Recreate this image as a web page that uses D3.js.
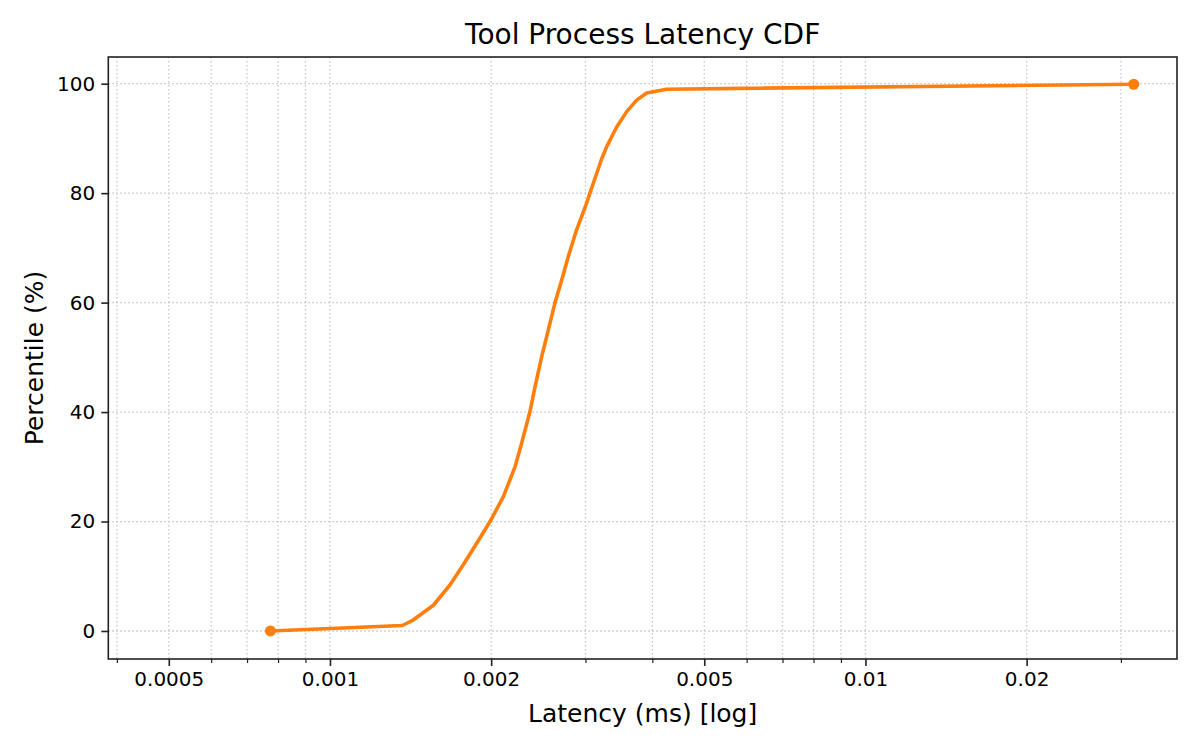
<!DOCTYPE html>
<html>
<head>
<meta charset="utf-8">
<script src="https://cdn.jsdelivr.net/npm/d3@7"></script>
<style>
  body { margin: 0; background: #fff; }
  text { font-family: "DejaVu Sans", sans-serif; fill: #000; }
</style>
</head>
<body>
<svg id="main" width="1200" height="750"></svg>
<script>
latencyMs = [0.000774, 0.001365, 0.00143, 0.00156, 0.001675, 0.001774, 0.001906, 0.00199,
  0.002107, 0.002216, 0.00228, 0.002363, 0.002415, 0.002485, 0.002557, 0.002632,
  0.002708, 0.002786, 0.002888, 0.003006, 0.003058, 0.003148, 0.003215, 0.003287,
  0.003431, 0.003582, 0.003739, 0.003903, 0.004254, 0.0317];
percentile = [0, 1, 2, 4.7, 8.4, 12.1, 17, 20,
  24.5, 30, 34.3, 40.1, 44.6, 50.1, 55, 60,
  64.1, 68.4, 73.3, 77.8, 80, 83.6, 86.2, 88.5,
  92.1, 94.9, 97, 98.3, 99, 99.9];

xMajor = [0.0005, 0.001, 0.002, 0.005, 0.01, 0.02];
xMajorLabels = ["0.0005", "0.001", "0.002", "0.005", "0.01", "0.02"];
xMinor = [0.0004, 0.0006, 0.0007, 0.0008, 0.0009, 0.003, 0.004,
  0.006, 0.007, 0.008, 0.009, 0.03];
yTicks = [0, 20, 40, 60, 80, 100];

var svg = d3.select("#main");
var mLeft = 108.3, mRight = 1177, mTop = 57, mBottom = 659;
var orange = "#ff7f0e";

var x = d3.scaleLog().domain([0.0003855, 0.03818]).range([mLeft, mRight]);
var y = d3.scaleLinear().domain([-5.12, 104.88]).range([mBottom, mTop]);

// grid lines (dotted, major + minor on x)
var grid = svg.append("g")
  .attr("stroke", "#c6c6c6").attr("stroke-width", 1.3)
  .attr("stroke-dasharray", "1.6,2.4");
xMajor.concat(xMinor).forEach(function(v) {
  grid.append("line")
    .attr("x1", x(v)).attr("x2", x(v))
    .attr("y1", mTop).attr("y2", mBottom);
});
yTicks.forEach(function(v) {
  grid.append("line")
    .attr("x1", mLeft).attr("x2", mRight)
    .attr("y1", y(v)).attr("y2", y(v));
});

// axes
var xAxis = d3.axisBottom(x).tickValues(xMajor)
  .tickFormat(function(d, i) { return xMajorLabels[i]; })
  .tickSize(7).tickPadding(6);
var gx = svg.append("g").attr("transform", "translate(0," + mBottom + ")").call(xAxis);
gx.select(".domain").remove();
gx.selectAll("line").attr("stroke", "#222").attr("stroke-width", 1.6);
gx.selectAll("text").style("font-size", "20px").style("font-family", "DejaVu Sans");

var xAxisMinor = d3.axisBottom(x).tickValues(xMinor).tickFormat("").tickSize(4);
var gxm = svg.append("g").attr("transform", "translate(0," + mBottom + ")").call(xAxisMinor);
gxm.select(".domain").remove();
gxm.selectAll("line").attr("stroke", "#222").attr("stroke-width", 1.2);

var yAxis = d3.axisLeft(y).tickValues(yTicks).tickSize(7).tickPadding(6);
var gy = svg.append("g").attr("transform", "translate(" + mLeft + ",0)").call(yAxis);
gy.select(".domain").remove();
gy.selectAll("line").attr("stroke", "#222").attr("stroke-width", 1.6);
gy.selectAll("text").style("font-size", "20px").style("font-family", "DejaVu Sans");

// frame
svg.append("rect")
  .attr("x", mLeft).attr("y", mTop)
  .attr("width", mRight - mLeft).attr("height", mBottom - mTop)
  .attr("fill", "none").attr("stroke", "#222").attr("stroke-width", 1.6);

// CDF line
var pts = latencyMs.map(function(v, i) { return [v, percentile[i]]; });
var line = d3.line().x(function(d) { return x(d[0]); }).y(function(d) { return y(d[1]); });
svg.append("path").datum(pts)
  .attr("d", line)
  .attr("fill", "none").attr("stroke", orange)
  .attr("stroke-width", 3.6).attr("stroke-linejoin", "round");

// min / max markers
[pts[0], pts[pts.length - 1]].forEach(function(d) {
  svg.append("circle")
    .attr("cx", x(d[0])).attr("cy", y(d[1])).attr("r", 5.5)
    .attr("fill", orange);
});

// texts
svg.append("text")
  .attr("x", (mLeft + mRight) / 2).attr("y", 44.3)
  .attr("text-anchor", "middle").style("font-size", "28px")
  .text("Tool Process Latency CDF");

svg.append("text")
  .attr("x", (mLeft + mRight) / 2).attr("y", 721.7)
  .attr("text-anchor", "middle").style("font-size", "25px")
  .text("Latency (ms) [log]");

svg.append("text")
  .attr("transform", "translate(42.7," + (mTop + mBottom) / 2 + ") rotate(-90)")
  .attr("text-anchor", "middle").style("font-size", "25px")
  .text("Percentile (%)");
</script>
</body>
</html>
